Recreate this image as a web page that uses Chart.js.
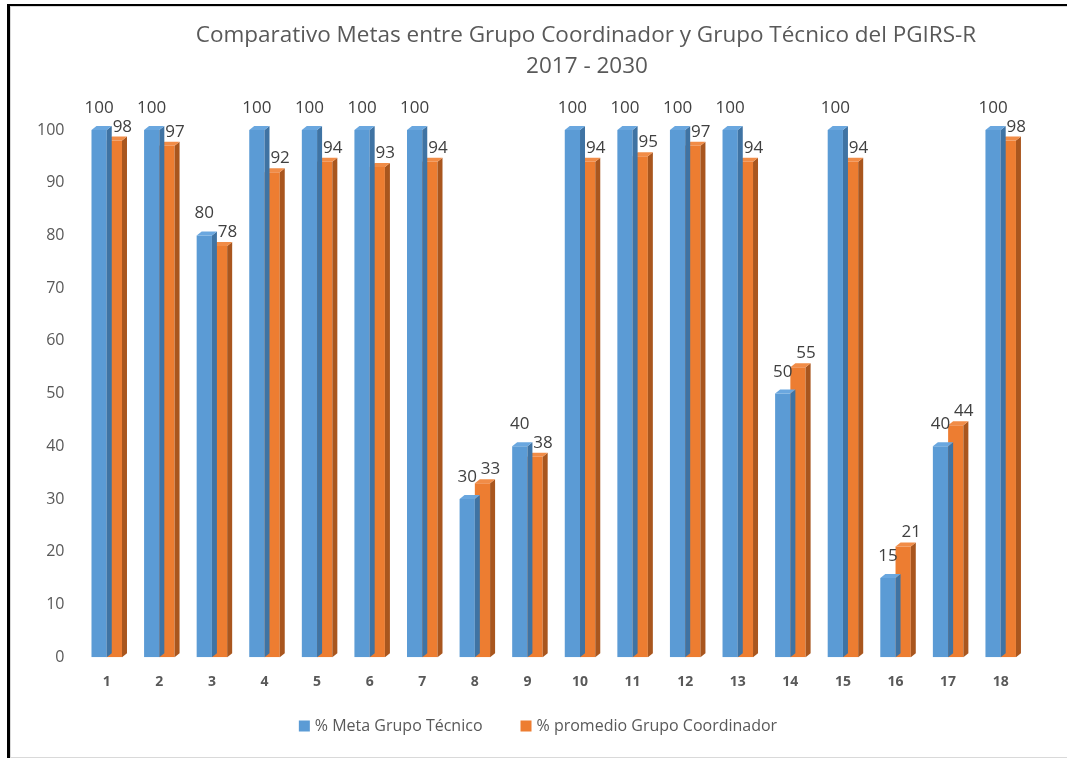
<!DOCTYPE html>
<html>
<head>
<meta charset="utf-8">
<script src="https://cdn.jsdelivr.net/npm/chart.js@4.4.1/dist/chart.umd.min.js"></script>
<style>
  html, body { margin: 0; padding: 0; background: #ffffff; }
  #wrap { position: absolute; left: 0; top: 0; width: 1067px; height: 759px; }
  #frame { position: absolute; left: 7px; top: 4px; width: 1070px; height: 754px;
           border-left: 3px solid #000; border-top: 2px solid #000; box-sizing: border-box; }
  #inner { position: absolute; left: 0; top: 0; right: 0; bottom: 0;
           border-left: 1px solid #d9d9d9; border-top: 1px solid #d9d9d9; border-bottom: 1px solid #d9d9d9; }
  canvas { position: absolute; left: 0; top: 0; }
</style>
</head>
<body>
<div id="wrap">
  <div id="frame"><div id="inner"></div></div>
  <canvas id="c" width="1067" height="759"></canvas>
</div>
<script>
const titleLines = ["Comparativo Metas entre Grupo Coordinador y Grupo Técnico del PGIRS-R", "2017 - 2030"];
const categories = ["1","2","3","4","5","6","7","8","9","10","11","12","13","14","15","16","17","18"];
const seriesNames = ["% Meta Grupo Técnico", "% promedio Grupo Coordinador"];
const metaTecnico = [100,100,80,100,100,100,100,30,40,100,100,100,100,50,100,15,40,100];
const promedioCoordinador = [98,97,78,92,94,93,94,33,38,94,95,97,94,55,94,21,44,98];
const yTicks = [0,10,20,30,40,50,60,70,80,90,100];

const FONT = "'Open Sans', sans-serif";
const faceColors = [
  { front: '#5b9bd5', top: '#6aa7df', side: '#3f73a3' },
  { front: '#ed7d31', top: '#f18c47', side: '#a9561e' }
];
const DX = 5, DY = 4;

const bar3d = {
  id: 'bar3d',
  afterDatasetDraw(chart, args) {
    const ctx = chart.ctx;
    const col = faceColors[args.index];
    ctx.save();
    args.meta.data.forEach(el => {
      const p = el.getProps(['x','y','base','width'], true);
      const l = p.x - p.width/2, r = p.x + p.width/2;
      ctx.fillStyle = col.side;
      ctx.beginPath();
      ctx.moveTo(r, p.y); ctx.lineTo(r+DX, p.y-DY); ctx.lineTo(r+DX, p.base-DY); ctx.lineTo(r, p.base);
      ctx.closePath(); ctx.fill();
      ctx.fillStyle = col.top;
      ctx.beginPath();
      ctx.moveTo(l, p.y); ctx.lineTo(l+DX, p.y-DY); ctx.lineTo(r+DX, p.y-DY); ctx.lineTo(r, p.y);
      ctx.closePath(); ctx.fill();
    });
    ctx.restore();
  }
};

const labelsPlugin = {
  id: 'valueLabels',
  afterDatasetsDraw(chart) {
    const ctx = chart.ctx;
    ctx.save();
    ctx.font = "17px " + FONT;
    ctx.fillStyle = '#404040';
    ctx.textAlign = 'center';
    ctx.textBaseline = 'alphabetic';
    chart.data.datasets.forEach((ds, i) => {
      const meta = chart.getDatasetMeta(i);
      meta.data.forEach((el, j) => {
        const p = el.getProps(['x','y'], true);
        if (i === 0) ctx.fillText(String(ds.data[j]), p.x, p.y - 17);
        else ctx.fillText(String(ds.data[j]), p.x + 8, p.y - 9);
      });
    });
    ctx.restore();
  }
};

const titleLegendPlugin = {
  id: 'titleLegend',
  afterDraw(chart) {
    const ctx = chart.ctx;
    ctx.save();
    ctx.font = "22.5px " + FONT;
    ctx.fillStyle = '#595959';
    ctx.textAlign = 'center';
    ctx.textBaseline = 'middle';
    ctx.fillText(titleLines[0], 586, 36);
    ctx.fillText(titleLines[1], 587, 67);
    ctx.font = "16px " + FONT;
    ctx.textAlign = 'left';
    const box = 11, gap = 5, itemGap = 38;
    const ds = chart.data.datasets;
    const widths = ds.map(d => ctx.measureText(d.label).width);
    let total = 0;
    widths.forEach((w, i) => { total += box + gap + w + (i < widths.length - 1 ? itemGap : 0); });
    let x = 538 - total / 2;
    const cy = 726;
    ds.forEach((d, i) => {
      ctx.fillStyle = d.backgroundColor;
      ctx.fillRect(x, cy - box/2, box, box);
      ctx.fillStyle = '#595959';
      ctx.fillText(d.label, x + box + gap, cy);
      x += box + gap + widths[i] + itemGap;
    });
    ctx.restore();
  }
};

new Chart(document.getElementById('c'), {
  type: 'bar',
  data: {
    labels: categories,
    datasets: [
      { label: seriesNames[0], data: metaTecnico, backgroundColor: faceColors[0].front, borderWidth: 0 },
      { label: seriesNames[1], data: promedioCoordinador, backgroundColor: faceColors[1].front, borderWidth: 0 }
    ]
  },
  options: {
    responsive: false,
    animation: false,
    devicePixelRatio: 1,
    datasets: { bar: { categoryPercentage: 0.58, barPercentage: 1.0 } },
    layout: { padding: { top: 130, left: 21, right: 40, bottom: 53 } },
    scales: {
      x: {
        grid: { display: false, drawTicks: false },
        border: { display: false },
        ticks: { color: '#595959', font: { family: FONT, size: 14, weight: 'bold' }, padding: 16, maxRotation: 0 }
      },
      y: {
        min: 0, max: 100,
        afterBuildTicks(scale) { scale.ticks = yTicks.map(v => ({ value: v })); },
        grid: { display: false, drawTicks: false },
        border: { display: false },
        ticks: { color: '#595959', font: { family: FONT, size: 16 }, padding: 16 }
      }
    },
    plugins: {
      title: { display: false },
      tooltip: { enabled: false },
      legend: { display: false }
    }
  },
  plugins: [bar3d, labelsPlugin, titleLegendPlugin]
});
</script>
</body>
</html>
